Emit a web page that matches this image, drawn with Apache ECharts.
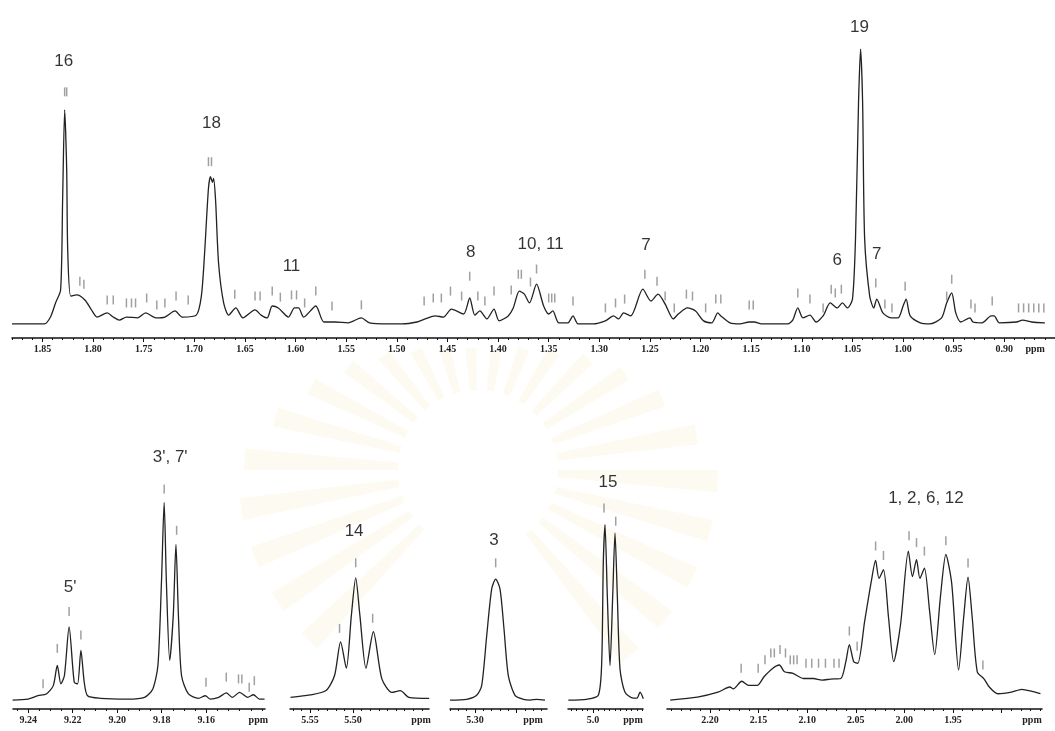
<!DOCTYPE html>
<html><head><meta charset="utf-8">
<script src="https://cdn.jsdelivr.net/npm/echarts@6/dist/echarts.min.js"></script>
<style>html,body{margin:0;padding:0;background:#fff}#c{width:1055px;height:731px}</style>
</head><body><div id="c"></div>
<script>
// ---------- DATA (ppm, relative intensity) ----------
// Top spectrum 1.88 - 0.85 ppm
const topPpm = [1.880,1.863,1.848,1.842,1.837,1.832,1.830,1.828,1.826,1.825,1.822,1.816,1.808,1.802,1.796,1.786,1.780,1.774,1.767,1.756,1.748,1.738,1.729,1.719,1.712,1.698,1.693,1.690,1.686,1.684,1.682,1.681,1.679,1.676,1.671,1.666,1.659,1.652,1.640,1.634,1.628,1.623,1.617,1.607,1.601,1.597,1.592,1.580,1.572,1.561,1.548,1.535,1.527,1.509,1.495,1.480,
1.472,1.462,1.454,1.446,1.434,1.428,1.423,1.418,1.411,1.404,1.399,1.390,1.385,1.379,1.374,1.369,1.362,1.355,1.350,1.346,1.340,1.331,1.326,1.321,1.306,1.294,1.286,1.281,1.276,1.269,1.257,1.249,1.242,1.235,1.227,1.222,1.213,1.205,1.197,1.189,1.183,1.180,
1.171,1.161,1.152,1.147,1.140,1.128,1.114,1.109,1.104,1.099,1.092,1.086,1.079,1.072,1.065,1.060,1.055,1.050,1.047,1.044,1.042,1.040,1.038,1.033,1.029,1.026,1.020,1.012,1.005,1.000,0.997,0.993,0.983,0.974,0.962,0.957,0.952,0.948,0.943,0.934,0.931,0.922,0.913,0.910,0.905,0.888,0.882,0.873,0.860];
const topInt = [0,0,0,2.5,7.6,12.3,45.1,77.6,56.0,27.1,10.1,10.5,8.7,5.4,2.5,4.0,2.5,1.4,2.5,2.2,4.0,2.2,2.5,4.7,2.5,3.2,10.1,24.5,49.1,53.4,51.3,52.7,45.1,22.0,7.6,3.2,5.8,2.2,5.1,3.2,2.2,6.5,5.8,2.5,5.8,5.8,2.5,6.5,0.7,0.7,0.4,2.2,0.4,0,0,0.7,
1.8,2.9,2.5,5.4,3.6,9.4,3.2,4.7,1.8,5.4,1.1,2.9,5.8,11.9,10.8,7.6,14.4,6.5,3.6,4.7,0.4,0.4,2.9,0,0,1.1,2.9,1.8,4.0,2.9,12.6,8.3,10.8,7.2,1.8,3.6,5.8,4.7,1.1,0.4,4.0,2.9,
0.4,0,0.7,0.7,0,0,0,1.4,5.8,2.2,3.2,0.7,2.9,7.6,5.8,7.6,5.8,9.0,31.0,80.5,99.6,80.5,31.0,10.1,5.8,9.0,4.0,2.2,2.2,6.5,9.0,2.9,0.4,0,2.2,7.6,11.2,4.0,0.7,2.2,0.7,0.4,2.9,2.9,0.4,0.7,1.4,0.7,0.4];
const topMarkPpm = [1.828,1.826,1.813,1.809,1.786,1.780,1.767,1.762,1.758,1.747,1.737,1.729,1.718,1.706,1.686,1.683,1.660,1.640,1.635,1.623,1.615,1.604,1.599,1.591,1.580,1.564,1.535,1.473,1.464,1.456,1.447,1.436,1.428,1.420,1.413,1.404,1.387,1.380,1.377,1.368,1.362,1.350,1.347,1.344,1.326,1.294,1.284,1.275,1.255,1.243,1.235,1.226,1.214,1.208,1.195,1.185,1.180,1.152,1.148,1.104,1.092,1.079,1.071,1.067,1.061,1.027,1.018,1.011,0.998,0.957,0.952,0.933,0.929,0.912,0.886,0.881,0.876,0.871,0.866,0.861];
const topMarkInt = [84.1,84.1,15.5,14.4,8.7,8.7,7.6,7.6,7.6,9.4,6.9,7.6,10.1,8.7,58.8,58.8,10.8,10.1,10.1,11.9,9.7,10.5,10.5,7.6,11.9,6.5,6.9,8.3,9.4,9.4,11.9,10.1,17.3,10.1,8.3,11.9,12.3,18.0,18.0,15.2,19.9,9.4,9.4,9.4,8.3,5.8,7.6,9.0,18.0,15.5,10.1,5.8,10.8,10.1,5.8,9.0,9.0,6.9,6.9,11.2,9.0,5.8,12.6,11.2,12.6,14.8,7.2,5.8,13.7,10.1,16.2,7.2,5.8,8.3,5.8,5.8,5.8,5.8,5.8,5.8];
const topLabels = [['16',1.829,95.3],['18',1.683,72.6],['11',1.604,20.9],['8',1.427,26.0],['10, 11',1.358,28.9],['7',1.254,28.5],['6',1.065,23.1],['19',1.043,107.6],['7',1.026,25.3]];
const topTicks = [1.85,1.80,1.75,1.70,1.65,1.60,1.55,1.50,1.45,1.40,1.35,1.30,1.25,1.20,1.15,1.10,1.05,1.00,0.95,0.90];

// Panel 1: 9.25 - 9.13 ppm
const p1Spectrum = [[9.247,0],[9.240,0.5],[9.2356,2.2],[9.2318,3.1],[9.2287,7.3],[9.2269,17.5],[9.2253,8.2],[9.2237,12.4],[9.2216,37.0],[9.2193,9.0],[9.2178,8.2],[9.2163,25.1],[9.2148,9.0],[9.2133,2.2],[9.2075,0.9],[9.1953,0.5],[9.1877,1.4],[9.1840,5.6],[9.1817,17.5],[9.1801,59.9],[9.1789,99.8],[9.1779,59.9],[9.1764,20.0],[9.1748,43.0],[9.1736,78.6],[9.1725,43.0],[9.1711,12.4],[9.1680,3.1],[9.1635,0.9],[9.1604,2.2],[9.1582,0.5],[9.1544,1.4],[9.1510,3.6],[9.1483,1.4],[9.1450,3.9],[9.1414,1.4],[9.1388,2.7],[9.1361,0.5],[9.1338,0.5]];
const p1Marks = [[9.2333,8.2],[9.2269,26.1],[9.2216,44.7],[9.2163,32.8],[9.1789,106.6],[9.1733,85.7],[9.1601,9.0],[9.1510,11.6],[9.1455,10.7],[9.1440,10.7],[9.1407,6.5],[9.1384,9.8]];
const p1Labels = [["5'",9.2211,57.1],["3', 7'",9.1762,122.7]];
const p1Ticks = [9.24,9.22,9.20,9.18,9.16];

// Panel 2: 5.57 - 5.41 ppm
const p2Spectrum = [[5.5727,1.4],[5.5499,2.6],[5.5314,4.8],[5.5215,12.4],[5.5145,29.4],[5.5078,16.1],[5.5019,43.0],[5.4969,61.7],[5.4921,43.0],[5.4850,16.1],[5.4764,34.5],[5.4665,10.7],[5.4548,3.9],[5.4450,4.8],[5.4351,1.4],[5.4115,0.9]];
const p2Marks = [[5.5157,36.2],[5.4969,69.3],[5.4772,41.3]];
const p2Labels = [['14',5.4988,85.4]];
const p2Ticks = [5.55,5.50];

// Panel 3: 5.33 - 5.21 ppm
const p3Spectrum = [[5.3301,0],[5.3100,0.4],[5.2980,2.4],[5.2919,7.4],[5.2859,32.5],[5.2799,56.1],[5.2751,61.1],[5.2699,56.1],[5.2651,36.0],[5.2599,12.4],[5.2518,2.4],[5.2418,0.4],[5.2337,0],[5.2257,0.4],[5.2157,0]];
const p3Marks = [[5.2751,69.3]];
const p3Labels = [['3',5.2771,80.8]];
const p3Ticks = [5.30];

// Panel 4: 5.05 - 4.91 ppm
const p4Spectrum = [[5.0449,0],[5.0115,0.4],[4.9904,2.4],[4.9842,19.1],[4.9813,69.3],[4.9782,88.6],[4.9740,52.6],[4.9691,17.4],[4.9642,52.6],[4.9600,84.4],[4.9558,52.6],[4.9509,15.7],[4.9418,4.0],[4.9267,1.0],[4.9200,1.0],[4.9145,4.0],[4.9085,0.7]];
const p4Marks = [[4.9800,97.0],[4.9587,90.3]];
const p4Labels = [['15',4.9727,110.1]];
const p4Ticks = [5.0];

// Panel 5: 2.24 - 1.86 ppm
const p5Spectrum = [[2.2409,0],[2.2129,1.5],[2.1918,4.0],[2.1795,6.6],[2.1760,5.7],[2.1673,9.5],[2.1602,7.4],[2.1514,7.4],[2.1444,11.8],[2.1356,16.0],[2.1286,17.7],[2.1234,14.3],[2.1146,13.5],[2.1040,10.9],[2.0935,10.9],[2.0848,10.1],[2.0759,10.6],[2.0654,10.9],[2.0602,19.4],[2.0566,28.0],[2.0521,19.4],[2.0479,18.6],[2.0408,40.0],[2.0338,60.6],[2.0296,70.5],[2.0261,61.4],[2.0215,65.8],[2.0163,41.7],[2.0110,19.4],[2.0039,38.3],[1.9959,75.2],[1.9917,62.3],[1.9875,70.9],[1.9840,61.4],[1.9794,66.6],[1.9741,45.2],[1.9688,22.9],[1.9629,52.1],[1.9573,73.5],[1.9513,58.9],[1.9442,15.2],[1.9390,41.7],[1.9345,62.0],[1.9302,41.7],[1.9250,14.3],[1.9179,10.6],[1.9126,6.6],[1.9039,3.2],[1.8898,4.0],[1.8793,5.4],[1.8688,4.4],[1.8600,3.2]];
const p5Marks = [[2.1679,16.1],[2.1504,16.1],[2.1434,20.3],[2.1374,23.8],[2.1338,23.8],[2.1279,25.5],[2.1223,23.8],[2.1174,20.3],[2.1139,20.3],[2.1104,20.3],[2.1012,18.6],[2.0953,18.6],[2.0883,18.6],[2.0812,18.6],[2.0724,18.6],[2.0672,18.6],[2.0566,34.9],[2.0486,27.2],[2.0296,77.8],[2.0215,73.0],[1.9952,82.9],[1.9875,79.5],[1.9794,75.2],[1.9573,80.4],[1.9345,69.2],[1.9192,17.7]];
const p5Labels = [['1, 2, 6, 12',1.9778,102]];
const p5Ticks = [2.20,2.15,2.10,2.05,2.00,1.95];

// ---------- LAYOUT ----------
const zip = (a, b) => a.map((v, i) => [v, b[i]]);
const panels = [
  {spec: zip(topPpm, topInt), marks: zip(topMarkPpm, topMarkInt), labels: topLabels, ticks: topTicks, extra: [], unit: 0.8696, minor: 0.01, dec: 2,
   left: 12, width: 1050, top: 48, height: 290, min: 0.85, max: 1.88, ymin: -5.1},
  {spec: p1Spectrum, marks: p1Marks, labels: p1Labels, ticks: p1Ticks, extra: [], unit: 9.1366, minor: 0.005, dec: 2,
   left: 13, width: 252, top: 502, height: 207, min: 9.1336, max: 9.2468, ymin: -4.5},
  {spec: p2Spectrum, marks: p2Marks, labels: p2Labels, ticks: p2Ticks, extra: [], unit: 5.4209, minor: 0.01, dec: 2,
   left: 290, width: 139, top: 502, height: 207, min: 5.4117, max: 5.5733, ymin: -4.5},
  {spec: p3Spectrum, marks: p3Marks, labels: p3Labels, ticks: p3Ticks, extra: [5.25], unit: 5.2301, minor: 0.01, dec: 2,
   left: 450, width: 97, top: 502, height: 207, min: 5.2133, max: 5.3301, ymin: -4.5},
  {spec: p4Spectrum, marks: p4Marks, labels: p4Labels, ticks: p4Ticks, extra: [], unit: 4.9273, minor: 0.01, dec: 1,
   left: 568, width: 75, top: 502, height: 207, min: 4.9091, max: 5.0455, ymin: -4.5},
  {spec: p5Spectrum, marks: p5Marks, labels: p5Labels, ticks: p5Ticks, extra: [1.90], unit: 1.8687, minor: 0.01, dec: 2,
   left: 667, width: 375, top: 502, height: 207, min: 1.8584, max: 2.2442, ymin: -4.5}
];

const AXIS_COLOR = '#111';
const grid = [], xAxis = [], yAxis = [], series = [];
panels.forEach((p, i) => {
  grid.push({left: p.left, top: p.top, width: p.width, height: p.height});
  const minors = [];
  const n0 = Math.ceil(p.min / p.minor - 1e-9), n1 = Math.floor(p.max / p.minor + 1e-9);
  for (let n = n0; n <= n1; n++) minors.push(Math.round(n * p.minor * 10000) / 10000);
  const unit = p.unit, dec = p.dec;
  xAxis.push({
    type: 'value', gridIndex: i, position: 'bottom', min: p.min, max: p.max, inverse: true,
    axisLine: {show: true, onZero: false, lineStyle: {color: AXIS_COLOR, width: 1.5}},
    axisTick: {show: true, customValues: p.ticks.concat(p.extra), length: 4, lineStyle: {color: AXIS_COLOR, width: 1}},
    axisLabel: {show: true, customValues: p.ticks.concat([unit]), margin: 6,
      fontFamily: 'Liberation Serif, Times New Roman, serif', fontSize: 10, fontWeight: 'bold', color: '#222',
      formatter: v => Math.abs(v - unit) < 1e-7 ? 'ppm' : v.toFixed(dec)},
    splitLine: {show: false}
  });
  xAxis.push({
    type: 'value', gridIndex: i, position: 'bottom', min: p.min, max: p.max, inverse: true,
    axisLine: {show: false, onZero: false},
    axisTick: {show: true, customValues: minors, length: 2, lineStyle: {color: AXIS_COLOR, width: 1}},
    axisLabel: {show: false}, splitLine: {show: false}
  });
  yAxis.push({type: 'value', gridIndex: i, min: p.ymin, max: 100, show: false});
  series.push({
    type: 'line', xAxisIndex: 2 * i, yAxisIndex: i, data: p.spec, symbol: 'none', smooth: 0.25,
    lineStyle: {color: '#222', width: 1.3}, clip: false, silent: true, z: 2
  });
  series.push({
    type: 'scatter', xAxisIndex: 2 * i, yAxisIndex: i, data: p.marks, symbol: 'rect', symbolSize: [1.5, 9],
    itemStyle: {color: '#888'}, clip: false, silent: true, z: 3
  });
  series.push({
    type: 'scatter', xAxisIndex: 2 * i, yAxisIndex: i, symbolSize: 0, clip: false, silent: true, z: 4,
    data: p.labels.map(l => ({name: l[0], value: [l[1], l[2]]})),
    label: {show: true, position: 'inside', formatter: '{b}', fontFamily: 'Liberation Sans, Arial, sans-serif', fontSize: 17, color: '#000'}
  });
});

// faint background emblem (decorative sunburst watermark, kept below the top axis)
const graphic = [];
const cx = 478, cy = 470;
for (let k = 0; k < 30; k++) {
  const a = -Math.PI + k * (2 * Math.PI / 30);
  const mid = a + Math.PI / 60;
  if (mid > Math.PI * 0.3 && mid < Math.PI * 0.7) continue;
  const r = 240 - 118 * Math.max(0, -Math.sin(mid));
  graphic.push({type: 'sector', z: -10, silent: true,
    shape: {cx, cy, r0: 80, r, startAngle: a, endAngle: a + Math.PI / 34},
    style: {fill: 'rgba(244,228,170,0.16)'}});
}

const chart = echarts.init(document.getElementById('c'), null, {renderer: 'canvas'});
chart.setOption({animation: false, backgroundColor: '#fff', grid, xAxis, yAxis, series, graphic});
</script>
</body></html>
